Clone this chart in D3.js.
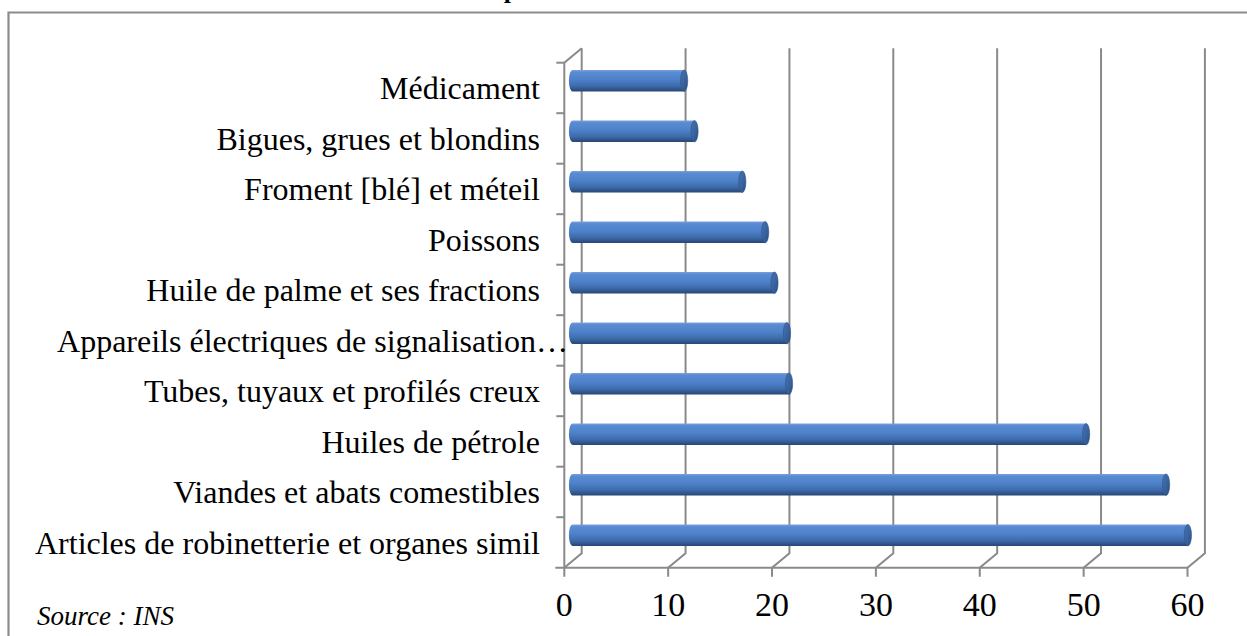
<!DOCTYPE html>
<html>
<head>
<meta charset="utf-8">
<script src="https://cdn.jsdelivr.net/npm/d3@7"></script>
<style>
  html, body { margin: 0; padding: 0; background: #fff; }
  svg { display: block; }
</style>
</head>
<body>
<div id="chart"></div>
<script>
// ---- data ----
const categories = [
  "Médicament",
  "Bigues, grues et blondins",
  "Froment [blé] et méteil",
  "Poissons",
  "Huile de palme et ses fractions",
  "Appareils électriques de signalisation…",
  "Tubes, tuyaux et profilés creux",
  "Huiles de pétrole",
  "Viandes et abats comestibles",
  "Articles de robinetterie et organes simil"
];
const values = [10.7, 11.7, 16.3, 18.5, 19.4, 20.6, 20.8, 49.4, 57.1, 59.2];
const tickValues = [0, 10, 20, 30, 40, 50, 60];
const titleText = "p";
const sourceText = "Source : INS";

// ---- layout ----
const W = 1247, H = 636;
const svg = d3.select("#chart").append("svg").attr("width", W).attr("height", H);

const x = d3.scaleLinear().domain([0, 60]).range([564.3, 1187.5]);
const y = d3.scaleBand().domain(categories).range([62.7, 567.7]);
const dx = 17.4, dy = -14.5;          // depth offset to the back wall
const gridColor = "#8a8a8a";
const serif = "'Liberation Serif', 'Times New Roman', serif";

// frame
svg.append("path")
  .attr("d", `M8.5,${H + 2} V12.5 H${W + 2}`)
  .attr("fill", "none").attr("stroke", "#8c8c8c").attr("stroke-width", 2.2);

// clipped title (only its descender shows, as in the reference)
svg.append("text").attr("x", 511).attr("y", -2.5)
  .attr("text-anchor", "middle").attr("font-family", serif)
  .attr("font-weight", "bold").attr("font-size", 26).text(titleText);

const yTop = y.range()[0], yBot = y.range()[1];

// back wall gridlines + floor diagonals + ticks
const grid = svg.append("g").attr("stroke", gridColor).attr("stroke-width", 2).attr("fill", "none");
tickValues.forEach(v => {
  grid.append("path").attr("d",
    `M${x(v) + dx},${yTop + dy} V${yBot + dy} L${x(v)},${yBot} V${yBot + 9}`);
});
grid.append("path").attr("d", `M${x(0) - 9},${yBot} H${x(60)}`);
grid.append("path").attr("d", `M${x(0)},${yBot} V${yTop} L${x(0) + dx},${yTop + dy}`);
categories.forEach(c => {
  grid.append("path").attr("d", `M${x(0) - 8},${y(c)} H${x(0)}`);
});

// gradients
const defs = svg.append("defs");
const gBody = defs.append("linearGradient").attr("id", "body").attr("x1", 0).attr("y1", 0).attr("x2", 0).attr("y2", 1);
[[0, "#7aa3dd"], [0.1, "#5a8cd3"], [0.45, "#4d81c9"], [0.75, "#3d6baa"], [1, "#274676"]]
  .forEach(([o, c]) => gBody.append("stop").attr("offset", o).attr("stop-color", c));
const gCap = defs.append("linearGradient").attr("id", "cap").attr("x1", 0).attr("y1", 0).attr("x2", 1).attr("y2", 1);
[[0, "#4673b2"], [0.6, "#37619c"], [1, "#284878"]]
  .forEach(([o, c]) => gCap.append("stop").attr("offset", o).attr("stop-color", c));

// cylinders
const bh = 21.5, rx = 3.6;
const bars = svg.append("g");
categories.forEach((c, i) => {
  const cy = y(c) + y.bandwidth() / 2 + dy / 2;
  const x0 = x(0) + dx / 2 - 0.5;
  const x1 = x(values[i]) + dx / 2;
  const g = bars.append("g");
  g.append("path")
    .attr("d", `M${x0},${cy - bh / 2} H${x1} V${cy + bh / 2} H${x0} A${rx},${bh / 2} 0 0 1 ${x0},${cy - bh / 2} Z`)
    .attr("fill", "url(#body)");
  g.append("ellipse").attr("cx", x1).attr("cy", cy).attr("rx", rx).attr("ry", bh / 2)
    .attr("fill", "url(#cap)").attr("stroke", "#2f5488").attr("stroke-width", 0.6);
});

// category labels
const labels = svg.append("g").attr("font-family", serif).attr("font-size", 32).attr("fill", "#000");
categories.forEach(c => {
  const truncated = c.endsWith("…");
  labels.append("text")
    .attr("x", truncated ? 568 : 540)
    .attr("y", y(c) + y.bandwidth() / 2 + 11.5)
    .attr("text-anchor", "end")
    .text(c);
});

// x tick labels
const tl = svg.append("g").attr("font-family", serif).attr("font-size", 34).attr("fill", "#000");
tickValues.forEach(v => {
  tl.append("text").attr("x", x(v)).attr("y", 616).attr("text-anchor", "middle").text(v);
});

// source
svg.append("text").attr("x", 37).attr("y", 625)
  .attr("font-family", serif).attr("font-style", "italic").attr("font-size", 27)
  .text(sourceText);
</script>
</body>
</html>
